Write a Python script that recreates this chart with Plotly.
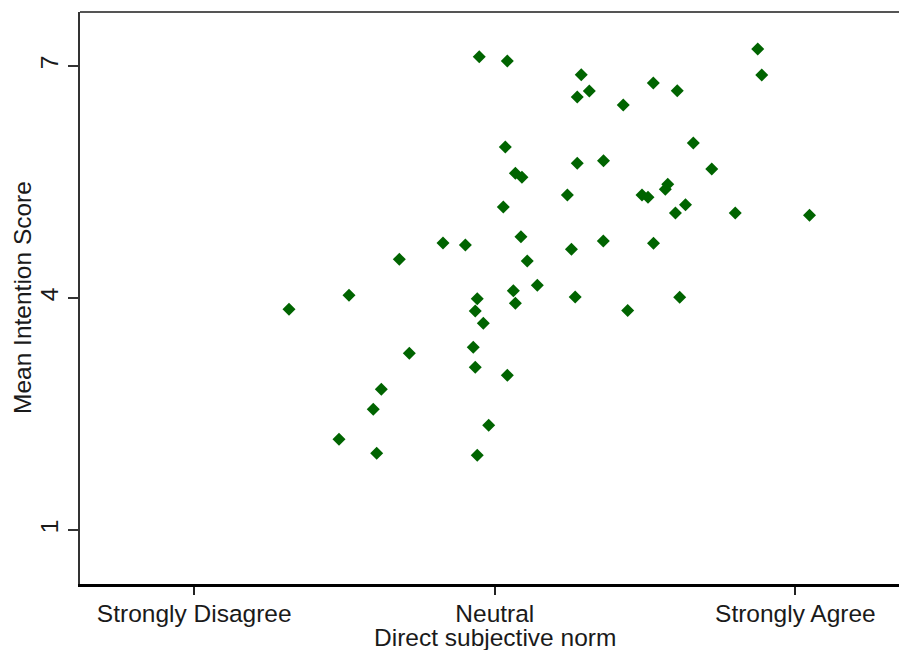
import plotly.graph_objects as go

# Direct subjective norm (1 = Strongly Disagree, 4 = Neutral, 7 = Strongly Agree)
subjective_norm = [
    3.845, 4.125, 4.863, 4.943, 4.823, 5.282, 5.582, 5.821, 6.624, 6.664,
    5.981, 4.105, 5.085, 4.823, 4.205, 4.271, 6.165, 5.726, 5.702, 5.469,
    5.529, 4.724, 4.085, 5.903, 5.803, 6.400, 7.141, 4.261, 3.483, 3.706,
    4.765, 5.083, 5.584, 3.047, 4.324, 4.424, 4.185, 4.205, 3.825, 3.805,
    3.885, 4.802, 5.845, 5.326, 2.545, 1.946, 3.147, 3.785, 3.805, 4.125,
    2.867, 2.787, 3.939, 2.445, 2.821, 3.825,
]

# Mean intention score per respondent
intention_score = [
    7.120, 7.065, 6.888, 6.677, 6.599, 6.496, 6.780, 6.681, 7.220, 6.884,
    6.004, 5.953, 5.774, 5.742, 5.612, 5.561, 5.668, 5.470, 5.406, 5.332,
    5.302, 5.332, 5.177, 5.205, 5.099, 5.099, 5.071, 4.791, 4.711, 4.685,
    4.631, 4.737, 4.707, 4.500, 4.478, 4.165, 4.094, 3.931, 3.991, 3.832,
    3.673, 4.013, 4.009, 3.838, 4.035, 3.854, 3.285, 3.362, 3.104, 3.000,
    2.819, 2.561, 2.354, 2.173, 1.992, 1.966,
]

x_tick_values = [1, 4, 7]
x_tick_labels = ["Strongly Disagree", "Neutral", "Strongly Agree"]
y_tick_values = [1, 4, 7]
y_tick_labels = ["1", "4", "7"]

FONT = "Liberation Sans, Arial, sans-serif"
TEXT = "#1a1a1a"
FSIZE = 24.5

fig = go.Figure(
    go.Scatter(
        x=subjective_norm,
        y=intention_score,
        mode="markers",
        marker=dict(symbol="diamond", size=10, color="#006400", line=dict(width=0)),
        hoverinfo="x+y",
    )
)

fig.update_layout(
    width=899,
    height=650,
    margin=dict(l=80, r=0, t=12, b=66),
    paper_bgcolor="white",
    plot_bgcolor="white",
    showlegend=False,
    font=dict(family=FONT, size=FSIZE, color=TEXT),
)

fig.update_xaxes(
    range=[-0.140, 8.034],
    tickvals=x_tick_values,
    ticktext=x_tick_labels,
    ticks="outside",
    ticklen=8,
    tickwidth=1.5,
    tickcolor="#222",
    ticklabelstandoff=-2,
    showgrid=False,
    zeroline=False,
    showline=True,
    linewidth=3,
    linecolor="black",
    tickfont=dict(family=FONT, size=FSIZE, color=TEXT),
)

fig.update_yaxes(
    range=[0.302, 7.698],
    tickvals=y_tick_values,
    ticktext=y_tick_labels,
    tickangle=-90,
    ticks="outside",
    ticklen=10,
    tickwidth=2,
    tickcolor="#333",
    showgrid=False,
    zeroline=False,
    showline=True,
    linewidth=2,
    linecolor="#333",
    tickfont=dict(family=FONT, size=FSIZE, color=TEXT),
)

# Top frame line
fig.add_shape(
    type="line", xref="paper", yref="paper",
    x0=0, x1=1, y0=1, y1=1,
    line=dict(color="#555", width=2),
)

# Axis titles
fig.add_annotation(
    text="Direct subjective norm",
    xref="x", yref="paper", x=4, y=0,
    xanchor="center", yanchor="middle", yshift=-53,
    showarrow=False,
    font=dict(family=FONT, size=FSIZE, color=TEXT),
)
fig.add_annotation(
    text="Mean Intention Score",
    xref="paper", yref="paper", x=0, y=0.5,
    xanchor="center", yanchor="middle", xshift=-58,
    textangle=-90,
    showarrow=False,
    font=dict(family=FONT, size=FSIZE, color=TEXT),
)

fig.write_html("out.html")
